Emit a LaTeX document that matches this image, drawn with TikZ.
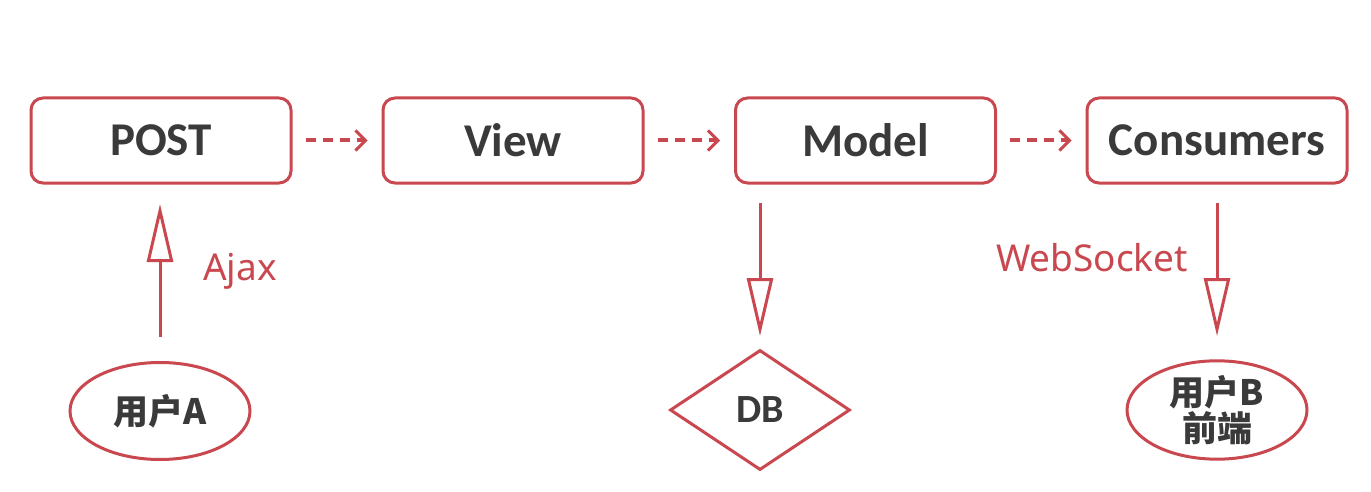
\documentclass[tikz,border=0pt]{standalone}
\usepackage{fontspec}
\setmainfont{Carlito}
\newfontfamily\lblfont{Noto Sans}
\newfontfamily\cjk{Noto Sans CJK SC}
\usetikzlibrary{arrows.meta,shapes.geometric}
\definecolor{rd}{HTML}{C9474F}
\definecolor{tx}{HTML}{3A3A3A}
\begin{document}
\begin{tikzpicture}[x=1pt,y=-1pt,
  box/.style={draw=rd,line width=3pt,rounded corners=12pt,minimum width=260pt,minimum height=85pt,fill=white,text=tx,font=\fontsize{47}{50}\selectfont\bfseries},
  oval/.style={draw=rd,line width=3pt,ellipse,minimum width=180pt,minimum height=97pt,text=tx,font=\fontsize{35}{38}\selectfont\bfseries\cjk,align=center,inner sep=0pt},
  dia/.style={draw=rd,line width=3pt,diamond,minimum width=180pt,minimum height=120pt,aspect=1.5,inner sep=0pt,text=tx,font=\fontsize{40}{44}\selectfont\bfseries},
  dflow/.style={draw=rd,line width=4pt,dash pattern=on 10pt off 7pt,-{Straight Barb[length=10pt,width=20pt,line width=3pt]}},
  sflow/.style={draw=rd,line width=3pt,-{Triangle[open,length=58pt,width=26pt,line width=3pt]}},
  lbl/.style={text=rd,font=\fontsize{37}{40}\selectfont\lblfont}
]
\useasboundingbox (0,0) rectangle (1371,492);
\fill[white] (0,0) rectangle (1371,492);
\node[box] (post) at (161,140.5) {POST};
\node[box] (view) at (513,140.5) {View};
\node[box] (model) at (865.5,140.5) {Model};
\node[box] (cons) at (1217,140.5) {Consumers};
\node[oval] (ua) at (160,411) {用户A};
\node[dia] (db) at (760,410) {DB};
\node[oval] (ub) at (1217,410) {用户B\\[-2pt]前端};
\coordinate (pa) at (160,337);
\coordinate (pt) at (160,204);
\coordinate (ms) at (760,203);
\coordinate (mt) at (760,336);
\coordinate (cs) at (1217,203);
\coordinate (ct) at (1217,336);
\draw[dflow] ([xshift=13pt]post.east) -- ([xshift=-14pt]view.west);
\draw[dflow] ([xshift=13pt]view.east) -- ([xshift=-14pt]model.west);
\draw[dflow] ([xshift=13pt]model.east) -- ([xshift=-14pt]cons.west);
\draw[sflow] (pa) -- (pt);
\draw[sflow] (ms) -- (mt);
\draw[sflow] (cs) -- (ct);
\node[lbl,anchor=west,inner sep=0pt] (ajax) at (203,271) {Ajax};
\node[lbl,anchor=east,inner sep=0pt] (ws) at (1188,258) {WebSocket};
\end{tikzpicture}
\end{document}
